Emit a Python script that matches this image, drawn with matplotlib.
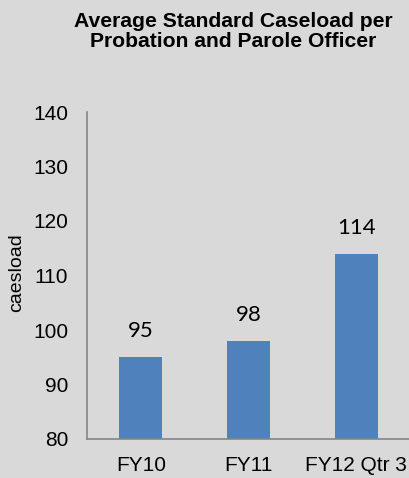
import matplotlib
matplotlib.use("Agg")
import matplotlib.pyplot as plt

categories = ["FY10", "FY11", "FY12 Qtr 3"]
values = [95, 98, 114]
yticks = [80, 90, 100, 110, 120, 130, 140]

bg = "#D9D9D9"
fig = plt.figure(figsize=(4.1, 4.78), dpi=100, facecolor=bg)
ax = fig.add_axes([87/410, 39/478, 323/410, 327/478], facecolor=bg)

x = range(len(categories))
ax.bar(x, values, width=0.4, color="#4F81BD", zorder=2)
ax.set_xlim(-0.5, len(categories) - 0.5)
ax.set_ylim(80, 140)
ax.set_yticks(yticks)
ax.set_xticks(list(x))
ax.set_xticklabels(categories)

for s in ["top", "right"]:
    ax.spines[s].set_visible(False)
for s in ["left", "bottom"]:
    ax.spines[s].set_color("#868686")
    ax.spines[s].set_linewidth(1.2)

ax.tick_params(axis="both", length=0, labelsize=15, colors="black")
ax.tick_params(axis="y", pad=13.5)
ax.tick_params(axis="x", pad=12)
for lab in ax.get_xticklabels() + ax.get_yticklabels():
    lab.set_family("Liberation Sans")

fig.text(17/410, 1 - 273/478, "caesload", rotation=90, ha="center", va="center",
         family="Liberation Sans", fontsize=14)

for xi, v in zip(x, values):
    ax.annotate(str(v), (xi, v), xytext=(0, 16), textcoords="offset pixels",
                ha="center", va="bottom", fontsize=16, family="Lato")

fig.text(233/410, 1 - 31.5/478, "Average Standard Caseload per\nProbation and Parole Officer",
         ha="center", va="center", fontsize=15.2, fontweight="bold", family="Liberation Sans",
         linespacing=1.02)

fig.savefig("out.png", dpi=100, facecolor=bg)
